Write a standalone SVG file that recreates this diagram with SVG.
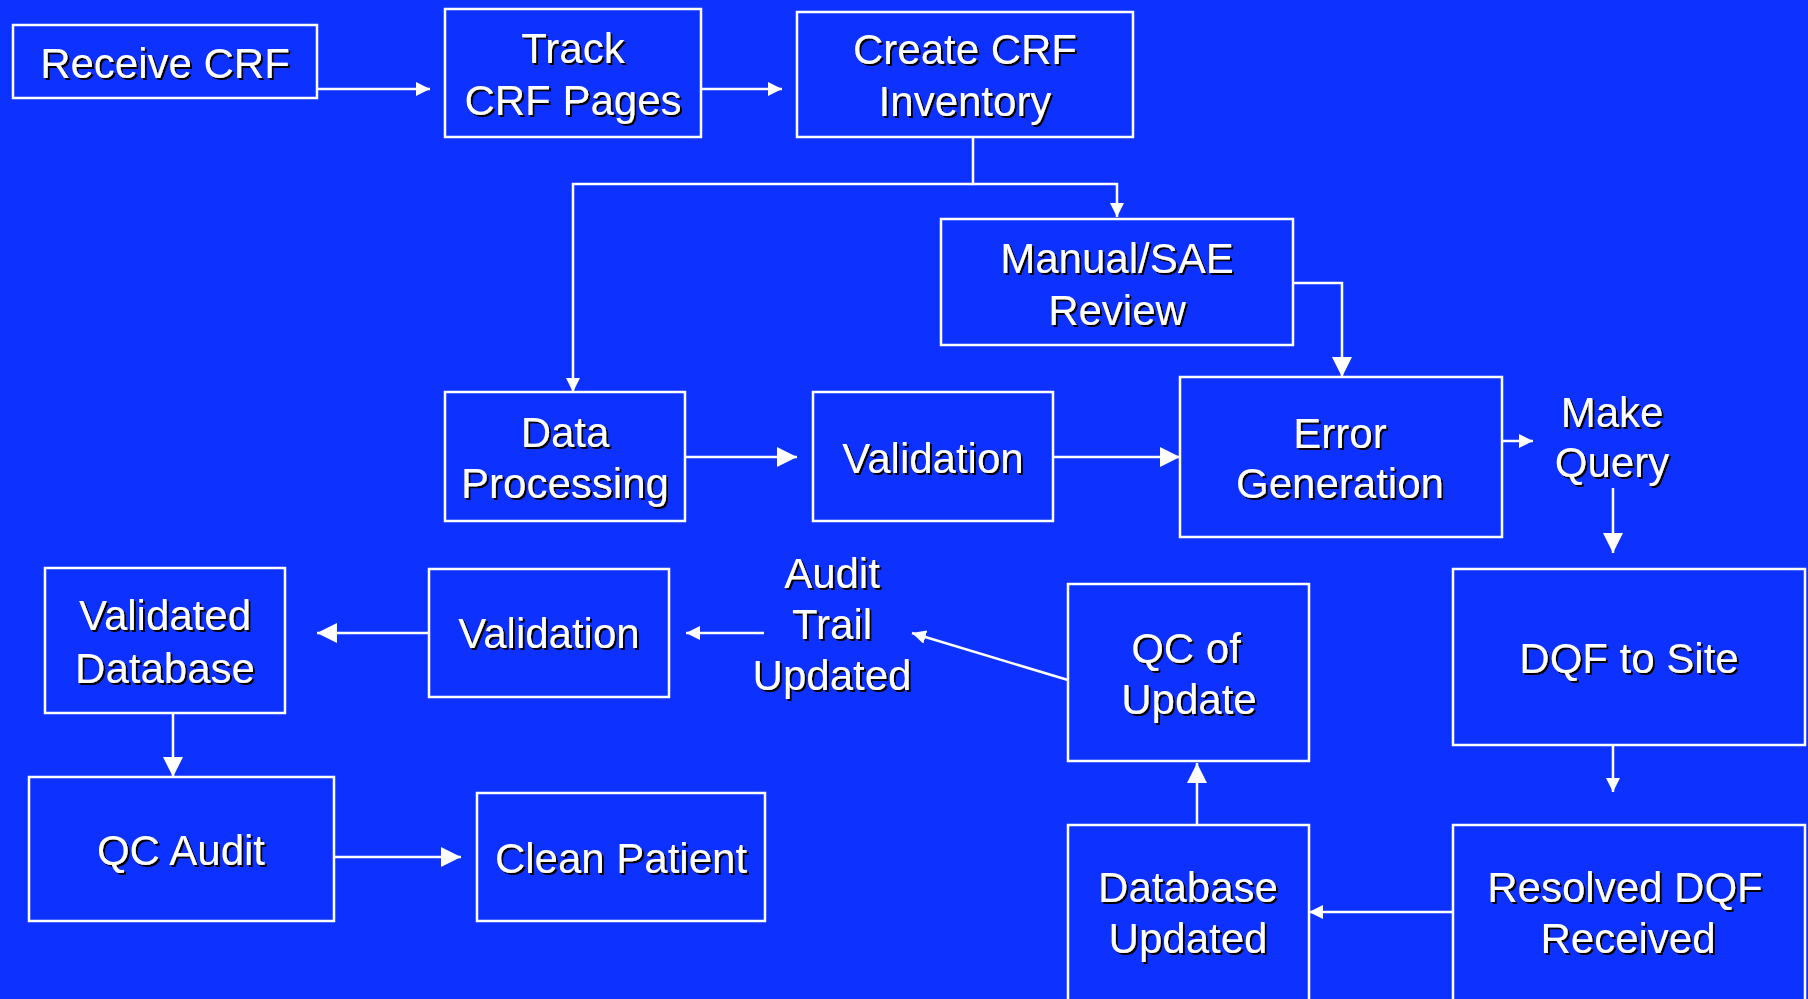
<svg xmlns="http://www.w3.org/2000/svg" width="1808" height="999" viewBox="0 0 1808 999">
<defs>
<filter id="sh" x="-10%" y="-10%" width="120%" height="130%">
<feDropShadow dx="2" dy="2" stdDeviation="0.4" flood-color="#000" flood-opacity="1"/>
</filter>
<marker id="as" markerUnits="userSpaceOnUse" viewBox="0 0 14 14" markerWidth="14" markerHeight="14" refX="14" refY="7" orient="auto">
<path d="M0,0 L14,7 L0,14 z" fill="#fff"/>
</marker>
<marker id="al" markerUnits="userSpaceOnUse" viewBox="0 0 20 20" markerWidth="20" markerHeight="20" refX="20" refY="10" orient="auto">
<path d="M0,0 L20,10 L0,20 z" fill="#fff"/>
</marker>
<style>
.box{fill:none;stroke:#fff;stroke-width:2.5}
.t{font-family:"Liberation Sans",Arial,sans-serif;font-size:42px;fill:#fff;text-anchor:middle;filter:url(#sh)}
.c{fill:none;stroke:#fff;stroke-width:2.5}
.s{marker-end:url(#as)}
.l{marker-end:url(#al)}
</style>
</defs>
<rect width="1808" height="999" fill="#0D32FF"/>

<g id="connectors">
<path class="c s" d="M317,89 H430"/>
<path class="c s" d="M701,89 H782"/>
<path class="c s" d="M973,137 V184 H1117 V217"/>
<path class="c s" d="M973,184 H573 V392"/>
<path class="c l" d="M1293,283 H1342 V377"/>
<path class="c l" d="M685,457 H797"/>
<path class="c l" d="M1053,457 H1180"/>
<path class="c s" d="M1502,441 H1533"/>
<path class="c l" d="M1613,488 V553"/>
<path class="c s" d="M1613,745 V792"/>
<path class="c s" d="M1453,912 H1309"/>
<path class="c l" d="M1197,825 V763"/>
<path class="c s" d="M1068,680 L912,633"/>
<path class="c s" d="M764,633 H686"/>
<path class="c l" d="M429,633 H317"/>
<path class="c l" d="M173,713 V777"/>
<path class="c l" d="M334,857 H461"/>
</g>

<g id="receive-crf">
<rect class="box" x="13" y="25" width="304" height="73"/>
<text class="t" x="165" y="78">Receive CRF</text>
</g>
<g id="track-crf-pages">
<rect class="box" x="445" y="9" width="256" height="128"/>
<text class="t" x="573" y="63">Track</text>
<text class="t" x="573" y="115">CRF Pages</text>
</g>
<g id="create-crf-inventory">
<rect class="box" x="797" y="12" width="336" height="125"/>
<text class="t" x="965" y="64">Create CRF</text>
<text class="t" x="965" y="116">Inventory</text>
</g>
<g id="manual-sae-review">
<rect class="box" x="941" y="219" width="352" height="126"/>
<text class="t" x="1117" y="273">Manual/SAE</text>
<text class="t" x="1117" y="325">Review</text>
</g>
<g id="data-processing">
<rect class="box" x="445" y="392" width="240" height="129"/>
<text class="t" x="565" y="447">Data</text>
<text class="t" x="565" y="498">Processing</text>
</g>
<g id="validation-1">
<rect class="box" x="813" y="392" width="240" height="129"/>
<text class="t" x="933" y="473">Validation</text>
</g>
<g id="error-generation">
<rect class="box" x="1180" y="377" width="322" height="160"/>
<text class="t" x="1340" y="448">Error</text>
<text class="t" x="1340" y="498">Generation</text>
</g>
<g id="make-query">
<text class="t" x="1612" y="427">Make</text>
<text class="t" x="1612" y="477">Query</text>
</g>
<g id="dqf-to-site">
<rect class="box" x="1453" y="569" width="352" height="176"/>
<text class="t" x="1629" y="673">DQF to Site</text>
</g>
<g id="resolved-dqf-received">
<rect class="box" x="1453" y="825" width="352" height="190"/>
<text class="t" x="1625" y="902">Resolved DQF</text>
<text class="t" x="1628" y="953">Received</text>
</g>
<g id="database-updated">
<rect class="box" x="1068" y="825" width="241" height="190"/>
<text class="t" x="1188" y="902">Database</text>
<text class="t" x="1188" y="953">Updated</text>
</g>
<g id="qc-of-update">
<rect class="box" x="1068" y="584" width="241" height="177"/>
<text class="t" x="1186" y="663">QC of</text>
<text class="t" x="1189" y="714">Update</text>
</g>
<g id="audit-trail-updated">
<text class="t" x="832" y="588">Audit</text>
<text class="t" x="832" y="639">Trail</text>
<text class="t" x="832" y="690">Updated</text>
</g>
<g id="validation-2">
<rect class="box" x="429" y="569" width="240" height="128"/>
<text class="t" x="549" y="648">Validation</text>
</g>
<g id="validated-database">
<rect class="box" x="45" y="568" width="240" height="145"/>
<text class="t" x="165" y="630">Validated</text>
<text class="t" x="165" y="683">Database</text>
</g>
<g id="qc-audit">
<rect class="box" x="29" y="777" width="305" height="144"/>
<text class="t" x="181" y="865">QC Audit</text>
</g>
<g id="clean-patient">
<rect class="box" x="477" y="793" width="288" height="128"/>
<text class="t" x="621" y="873">Clean Patient</text>
</g>
</svg>
